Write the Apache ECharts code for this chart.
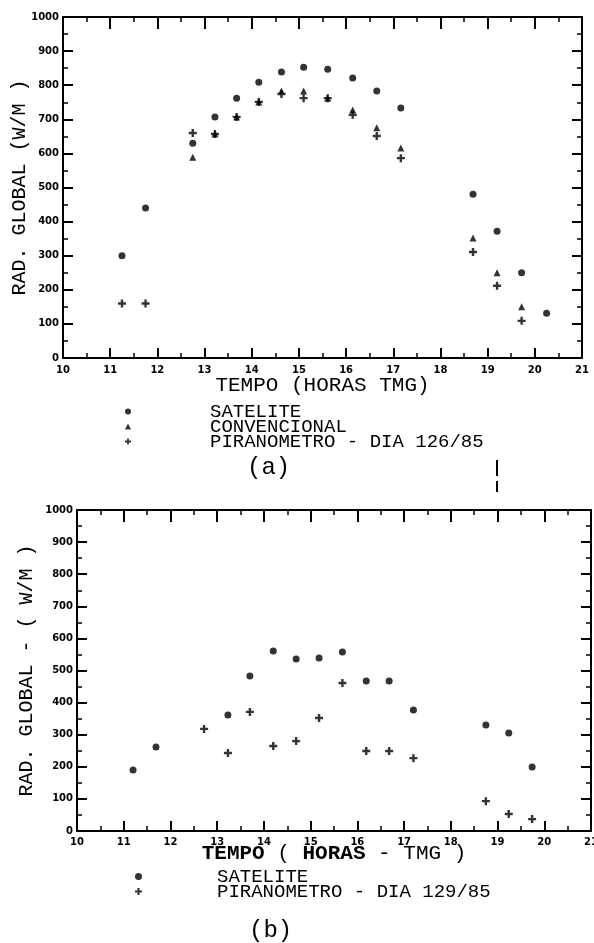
<!DOCTYPE html>
<html>
<head>
<meta charset="utf-8">
<script src="https://cdn.jsdelivr.net/npm/echarts@6/dist/echarts.min.js"></script>
<style>
html, body { margin: 0; padding: 0; background: #fff; }
#chart { width: 594px; height: 943px; }
</style>
</head>
<body>
<div id="chart"></div>
<script>
// (a) dia 126/85
const horasA = [11.25, 11.75, 12.75, 13.22, 13.68, 14.15, 14.63, 15.1, 15.61, 16.14, 16.65, 17.16, 18.69, 19.2, 19.72, 20.25]
const sateliteA = [300, 440, 630, 707, 762, 809, 839, 853, 847, 821, 783, 733, 480, 372, 250, 131]
const convencionalA = [null, null, 589, 657, 707, 751, 783, 783, 762, 727, 675, 616, 352, 250, 150, null]
const piranometroA = [160, 160, 660, 657, 707, 751, 774, 762, 762, 713, 651, 586, 311, 212, 109, null]

// (b) dia 129/85
const horasB = [11.2, 11.69, 12.72, 13.23, 13.7, 14.2, 14.69, 15.18, 15.68, 16.19, 16.68, 17.2, 18.75, 19.24, 19.74]
const sateliteB = [190, 262, null, 361, 483, 561, 536, 539, 558, 467, 467, 377, 330, 305, 199]
const piranometroB = [null, null, 318, 243, 371, 265, 280, 352, 461, 249, 249, 227, 93, 53, 37]

const legendaA = ['SATELITE', 'CONVENCIONAL', 'PIRANOMETRO - DIA 126/85']
const legendaB = ['SATELITE ', 'PIRANOMETRO - DIA 129/85']

const PLUS = 'path://M3.5,0H6.5V3.5H10V6.5H6.5V10H3.5V6.5H0V3.5H3.5Z'
const MONO = 'Liberation Mono'

// junta x e y, pulando os vazios
const pares = (xs, ys) => xs.map((x, i) => [x, ys[i]]).filter(p => p[1] != null)

const linha = { lineStyle: { color: '#000', width: 2 } }

function eixoX(grid, topo, nome, nameGap, margem) {
  return {
    type: 'value', gridIndex: grid, position: topo ? 'top' : 'bottom',
    min: 10, max: 21, interval: 1,
    axisLine: { show: true, onZero: false, ...linha },
    axisTick: { show: true, inside: true, length: topo ? 12 : 10, lineStyle: { color: '#000', width: 2 } },
    minorTick: { show: true, splitNumber: 2, length: 5, lineStyle: { color: '#000', width: 1.5 } },
    splitLine: { show: false },
    axisLabel: { show: !topo, margin: margem, color: '#000', fontFamily: 'DejaVu Sans', fontWeight: 'bold', fontSize: 10 },
    name: topo ? '' : nome,
    nameLocation: 'middle', nameGap: nameGap, nameMoveOverlap: false,
    nameTextStyle: { color: '#000', fontFamily: MONO, fontSize: 21,
      rich: { b: { fontFamily: MONO, fontSize: 21, fontWeight: 'bold', color: '#000' } } }
  }
}

function eixoY(grid, direita, nome, nameGap) {
  return {
    type: 'value', gridIndex: grid, position: direita ? 'right' : 'left',
    min: 0, max: 1000, interval: 100,
    axisLine: { show: true, onZero: false, ...linha },
    axisTick: { show: true, inside: true, length: 10, lineStyle: { color: '#000', width: 2 } },
    minorTick: { show: true, splitNumber: 2, length: 5, lineStyle: { color: '#000', width: 1.5 } },
    splitLine: { show: false },
    axisLabel: { show: !direita, margin: 4, color: '#000', fontFamily: 'DejaVu Sans', fontWeight: 'bold', fontSize: 10,
      formatter: v => String(v) },
    name: direita ? '' : nome,
    nameLocation: 'middle', nameGap: nameGap, nameMoveOverlap: false,
    nameTextStyle: { color: '#000', fontFamily: MONO, fontSize: 20 }
  }
}

function pontos(nome, x, y, ys, simbolo, tam) {
  return {
    name: nome, type: 'scatter', xAxisIndex: x, yAxisIndex: y,
    data: ys, symbol: simbolo, symbolSize: tam, symbolKeepAspect: true,
    itemStyle: { color: '#000' }, silent: true
  }
}

const chart = echarts.init(document.getElementById('chart'))
chart.setOption({
  backgroundColor: '#fff',
  animation: false,
  grid: [
    { left: 63, right: 12, top: 17, height: 341, outerBoundsMode: 'none', containLabel: false },
    { left: 77, right: 3, top: 510, height: 321, outerBoundsMode: 'none', containLabel: false }
  ],
  xAxis: [
    eixoX(0, false, 'TEMPO (HORAS TMG)', 17, 7),
    eixoX(0, true),
    eixoX(1, false, '{b|TEMPO} ( {b|HORAS} - TMG )', 12, 6),
    eixoX(1, true)
  ],
  yAxis: [
    eixoY(0, false, 'RAD. GLOBAL (W/M )', 33),
    eixoY(0, true),
    eixoY(1, false, 'RAD. GLOBAL - ( W/M )', 40),
    eixoY(1, true)
  ],
  legend: [
    {
      orient: 'vertical', left: 125, top: 402, padding: 0, itemGap: -4,
      itemWidth: 6, itemHeight: 6, selectedMode: false,
      data: legendaA,
      textStyle: { color: '#000', fontFamily: MONO, fontSize: 19, padding: [0, 0, 0, 74] }
    },
    {
      orient: 'vertical', left: 135, top: 867, padding: 0, itemGap: -4,
      itemWidth: 7, itemHeight: 7, selectedMode: false,
      data: legendaB,
      textStyle: { color: '#000', fontFamily: MONO, fontSize: 19, padding: [0, 0, 0, 70] }
    }
  ],
  graphic: [
    { type: 'text', left: 247, top: 456, style: { text: '(a)', fill: '#000', font: '24px "Liberation Mono"' } },
    { type: 'text', left: 249, top: 919, style: { text: '(b)', fill: '#000', font: '24px "Liberation Mono"' } },
    { type: 'line', shape: { x1: 497, y1: 460, x2: 497, y2: 476 }, style: { stroke: '#000', lineWidth: 2 } },
    { type: 'line', shape: { x1: 497, y1: 481, x2: 497, y2: 492 }, style: { stroke: '#000', lineWidth: 2 } }
  ],
  series: [
    pontos(legendaA[0], 0, 0, pares(horasA, sateliteA), 'circle', 7),
    pontos(legendaA[1], 0, 0, pares(horasA, convencionalA), 'triangle', 7),
    pontos(legendaA[2], 0, 0, pares(horasA, piranometroA), PLUS, 8),
    pontos(legendaB[0], 2, 2, pares(horasB, sateliteB), 'circle', 7),
    pontos(legendaB[1], 2, 2, pares(horasB, piranometroB), PLUS, 8)
  ]
})
</script>
</body>
</html>
